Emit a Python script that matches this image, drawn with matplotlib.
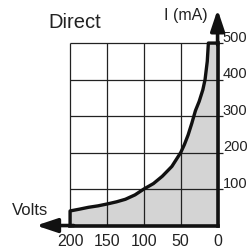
import numpy as np
import matplotlib.pyplot as plt

plt.rcParams['font.family'] = ['Liberation Sans', 'DejaVu Sans']

# curve (volts, mA)
volts = [200, 200, 187, 175, 162, 150, 137, 125, 112, 100, 87, 75, 62, 50,
         45, 40, 35, 30, 25, 20, 17, 14, 12.5, 0]
current = [0, 40, 45, 50, 54, 59, 65, 72, 84, 100, 115, 135, 162, 200,
           222, 248, 280, 315, 340, 372, 400, 450, 500, 500]

x_ticks = [200, 150, 100, 50, 0]
y_ticks = [100, 200, 300, 400, 500]

fig = plt.figure(figsize=(2.53, 2.5), dpi=100)
ax = fig.add_axes([0, 0, 1, 1])
ax.set_xlim(295, -48)
ax.set_ylim(-67, 618)
ax.axis('off')

# grid
ax.vlines(x_ticks, 0, 500, color='#222222', lw=0.9, zorder=1)
ax.hlines(y_ticks, 0, 200, color='#222222', lw=0.9, zorder=1)
# small ticks right of the axis
ax.hlines(y_ticks, 0, -8, color='#222222', lw=0.9, zorder=1)

ax.fill_between(volts, current, 0, color='#d4d4d4', zorder=0.5)
ax.plot(volts, current, color='#111111', lw=2.4, zorder=3)

# axes with arrows
ax.plot([0, 0], [0, 500], color='#111111', lw=2.6, zorder=4)
ax.plot([200, 0], [0, 0], color='#111111', lw=2.6, zorder=4)
ax.annotate('', xy=(0, 592), xytext=(0, 495),
            arrowprops=dict(arrowstyle='-|>,head_length=0.9,head_width=0.3',
                            color='#111111', lw=2.6,
                            mutation_scale=14, shrinkA=0, shrinkB=0), zorder=4)
ax.annotate('', xy=(246, 0), xytext=(195, 0),
            arrowprops=dict(arrowstyle='-|>,head_length=0.9,head_width=0.3',
                            color='#111111', lw=2.6,
                            mutation_scale=14, shrinkA=0, shrinkB=0), zorder=4)

for v in x_ticks:
    ax.text(v, -44, str(v), ha='center', va='center', fontsize=11.5, color='#222222')
for i in y_ticks:
    ax.text(-7, i + 14, str(i), ha='left', va='center', fontsize=10.5, color='#222222')

ax.text(193, 557, 'Direct', ha='center', va='center', fontsize=14.5, color='#222222')
ax.text(14, 575, 'I (mA)', ha='right', va='center', fontsize=11.5, color='#222222')
ax.text(254, 40, 'Volts', ha='center', va='center', fontsize=12, color='#222222')

fig.savefig('out.png', dpi=100)
